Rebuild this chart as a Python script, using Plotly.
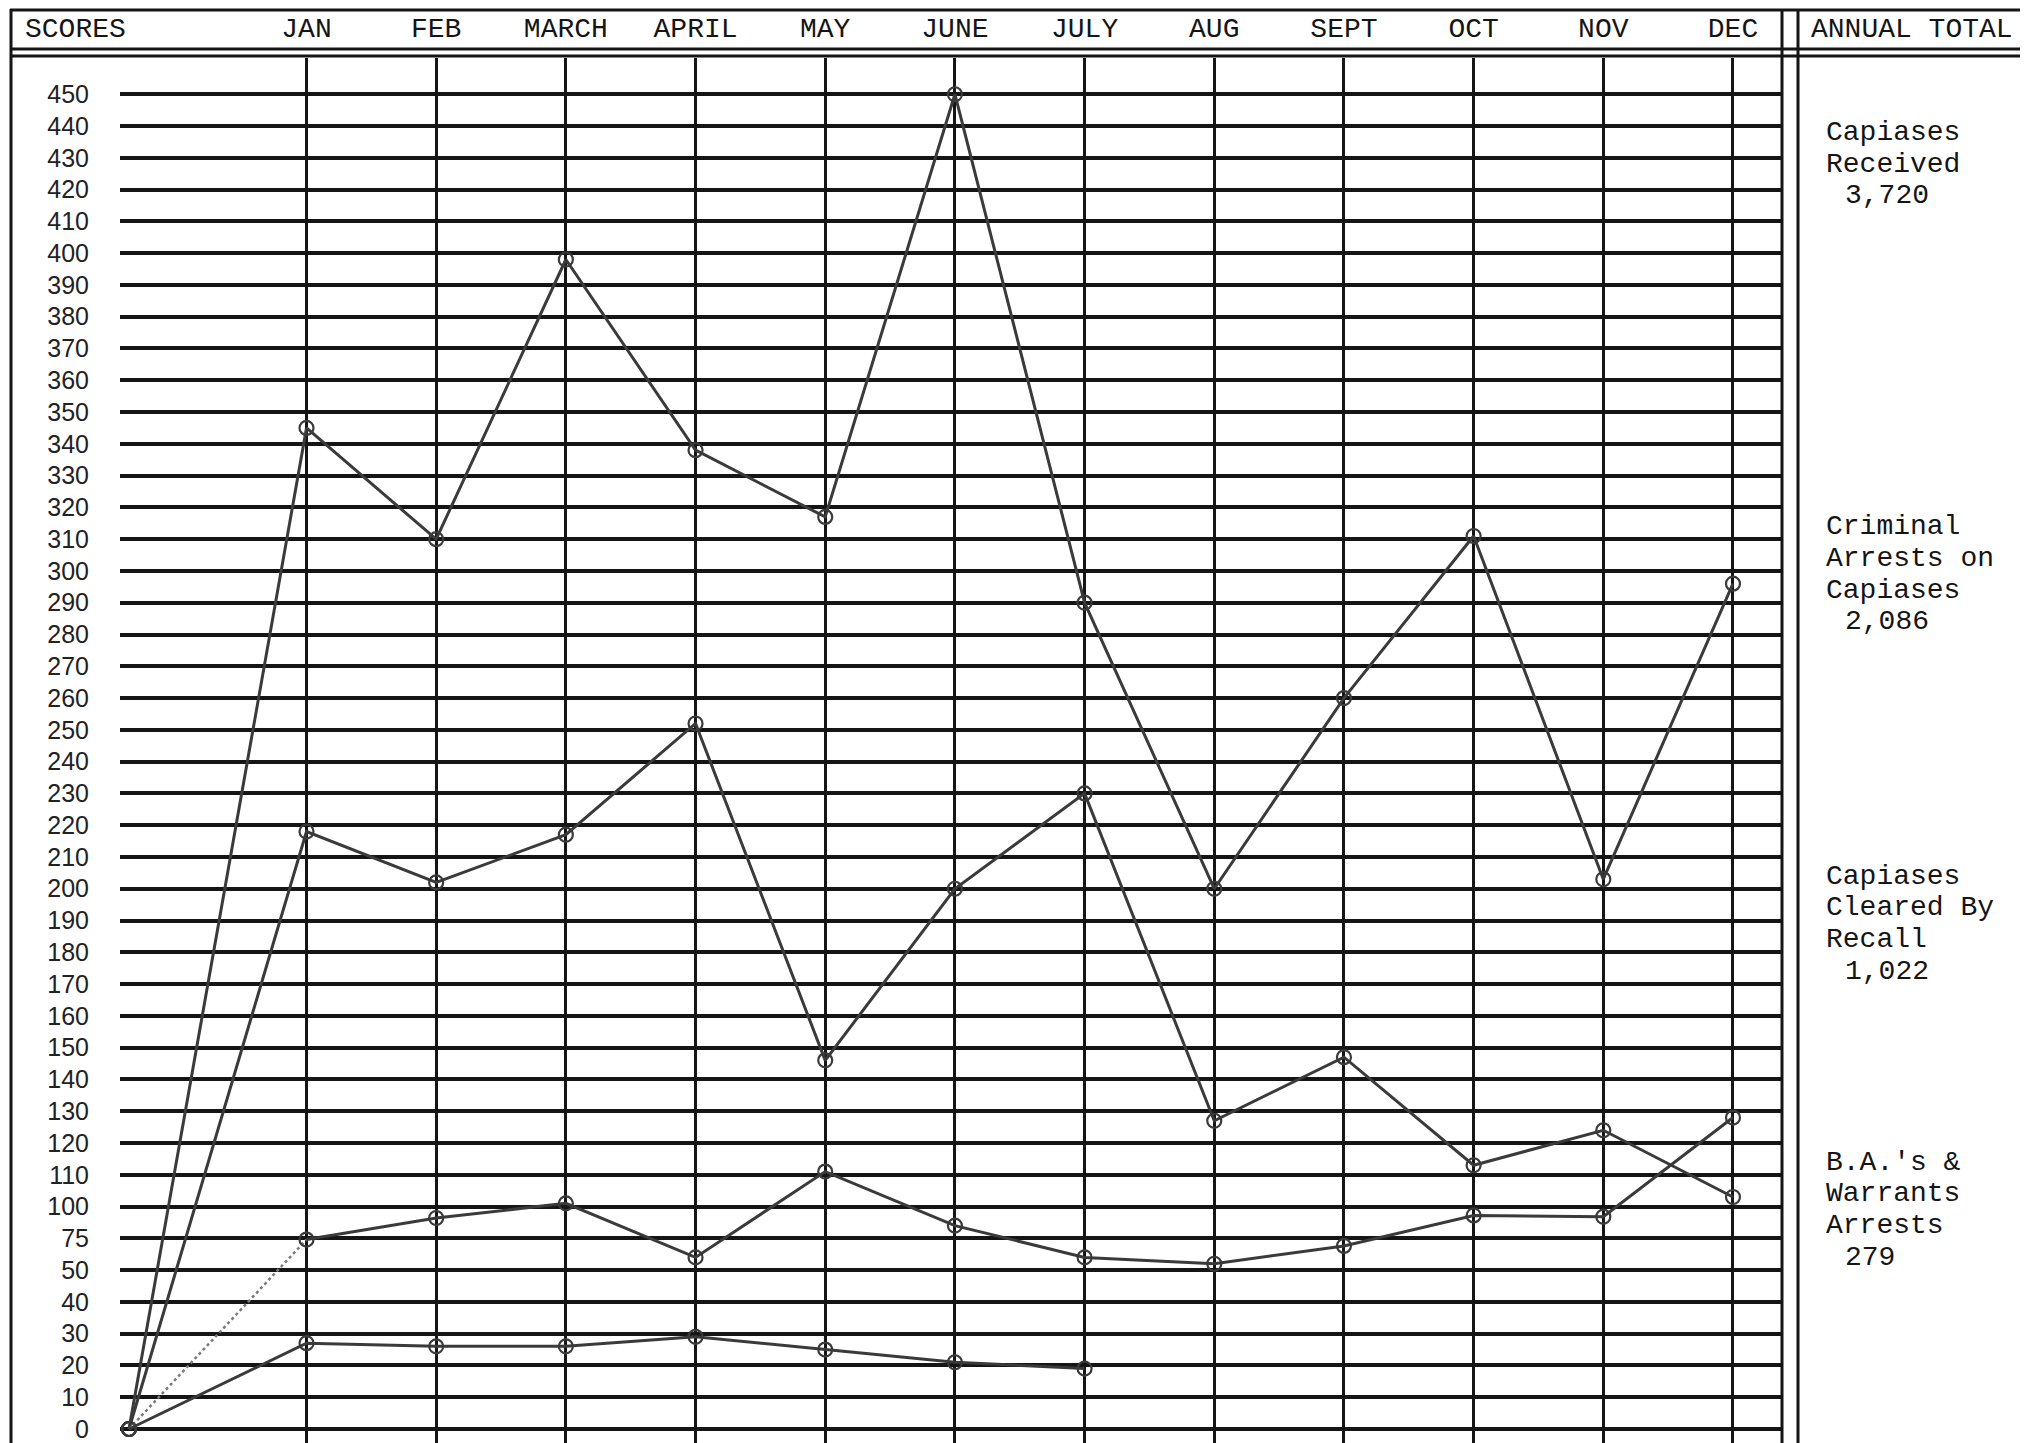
import numpy as np
import plotly.graph_objects as go

# ---------------- data ----------------
MONTHS = ["JAN", "FEB", "MARCH", "APRIL", "MAY", "JUNE",
          "JULY", "AUG", "SEPT", "OCT", "NOV", "DEC"]

# the printed score scale (non-uniform: 0-50 by 10, 75, then 100-450 by 10)
SCORE_TICKS = [0, 10, 20, 30, 40, 50, 75, 100, 110, 120, 130, 140, 150, 160,
               170, 180, 190, 200, 210, 220, 230, 240, 250, 260, 270, 280,
               290, 300, 310, 320, 330, 340, 350, 360, 370, 380, 390, 400,
               410, 420, 430, 440, 450]

START_VALUE = 0

CAPIASES_RECEIVED = [345, 310, 398, 338, 317, 452, 290, 200, 260, 311, 203, 296]
CRIMINAL_ARRESTS = [218, 202, 217, 252, 146, 200, 230, 127, 147, 113, 124, 103]
CLEARED_BY_RECALL = [74, 91, 101, 60, 111, 85, 60, 55, 69, 93, 92, 128]
BA_WARRANTS_ARRESTS = [27, 26, 26, 29, 25, 21, 19]   # Jan - July only

TOTAL_LABELS = [
    ["Capiases", "Received"],
    ["Criminal", "Arrests on", "Capiases"],
    ["Capiases", "Cleared By", "Recall"],
    ["B.A.'s &", "Warrants", "Arrests"],
]
TOTAL_VALUES = ["3,720", "2,086", "1,022", "279"]

# ---------------- layout constants (pixels of the 2028x1443 page) ----------------
PAGE_W, PAGE_H = 2028, 1443
OFF = 8                         # default page margin in front of the figure
FW, FH = PAGE_W - OFF, PAGE_H - OFF
PLOT_LEFT, PLOT_RIGHT, PLOT_TOP = 120, 1782, 58
ROW_PX = 31.78                  # height of one score row
ZERO_ROW_PX = 1429              # page row of the 0 line
MONTH_PX = 129.68               # width of one month column
JAN_PX = 306.5
ORIGIN_X = 1 - (JAN_PX - 129) / MONTH_PX   # where the chart's zero start point sits

INK = "#151515"
PEN = "#3a3a3a"
MONO = "Liberation Mono"


def px_x(p):
    return (p - OFF) / FW


def px_y(p):
    return 1 - (p - OFF) / FH


def score_row(values):
    """Custom piecewise scale of the printed score axis."""
    return np.interp(values, SCORE_TICKS, np.arange(len(SCORE_TICKS)))


month_x = np.arange(1, len(MONTHS) + 1)

x_lo = 1 - (JAN_PX - PLOT_LEFT) / MONTH_PX
x_hi = x_lo + (PLOT_RIGHT - PLOT_LEFT) / MONTH_PX
y_lo = -(PAGE_H - ZERO_ROW_PX) / ROW_PX
y_hi = y_lo + (PAGE_H - PLOT_TOP) / ROW_PX

fig = go.Figure()

MARK = dict(symbol="circle-open", size=14, color=PEN, line=dict(width=2.2))


def add_series(values, dotted_start=False):
    xs = np.concatenate([[ORIGIN_X], month_x[:len(values)]])
    ys = score_row(np.concatenate([[START_VALUE], values]))
    if dotted_start:
        fig.add_trace(go.Scatter(
            x=xs[:2], y=ys[:2], mode="lines",
            line=dict(color="#7a7a7a", width=2.5, dash="dot"),
            hoverinfo="skip", showlegend=False))
        fig.add_trace(go.Scatter(
            x=xs[1:], y=ys[1:], mode="lines+markers",
            line=dict(color=PEN, width=3), marker=MARK, showlegend=False))
        fig.add_trace(go.Scatter(
            x=xs[:1], y=ys[:1], mode="markers",
            marker=MARK, showlegend=False))
    else:
        fig.add_trace(go.Scatter(
            x=xs, y=ys, mode="lines+markers",
            line=dict(color=PEN, width=3), marker=MARK, showlegend=False))


add_series(CAPIASES_RECEIVED)
add_series(CRIMINAL_ARRESTS)
add_series(CLEARED_BY_RECALL, dotted_start=True)
add_series(BA_WARRANTS_ARRESTS)

# ---------------- frame shapes ----------------
shapes = []


def hline(y, x0, x1, w=3):
    shapes.append(dict(type="line", xref="paper", yref="paper",
                       x0=px_x(x0), x1=px_x(x1), y0=px_y(y), y1=px_y(y),
                       line=dict(color=INK, width=w)))


def vline(x, y0, y1, w=3):
    shapes.append(dict(type="line", xref="paper", yref="paper",
                       x0=px_x(x), x1=px_x(x), y0=px_y(y0), y1=px_y(y1),
                       line=dict(color=INK, width=w)))


hline(10, 10, 2026)
hline(49, 10, 2026)
hline(56, 10, 2026)
vline(11, 9, PAGE_H)
vline(2025, 9, PAGE_H)
vline(1782, 9, PAGE_H)
vline(1798, 9, PAGE_H)

# ---------------- annotations ----------------
ann = []
ann.append(dict(text="SCORES", xref="paper", yref="paper",
                x=px_x(23), y=px_y(29), xanchor="left", yanchor="middle",
                showarrow=False, font=dict(family=MONO, size=28, color=INK)))
ann.append(dict(text="ANNUAL TOTAL", xref="paper", yref="paper",
                x=px_x(1912), y=px_y(29), xanchor="center", yanchor="middle",
                showarrow=False, font=dict(family=MONO, size=28, color=INK)))

GROUP_TOP_ROWS = [40.8, 28.4, 17.4, 8.4]
for lines, total, top in zip(TOTAL_LABELS, TOTAL_VALUES, GROUP_TOP_ROWS):
    for i, t in enumerate(lines):
        ann.append(dict(text=t, xref="paper", yref="y",
                        x=px_x(1824), y=top - i, xanchor="left",
                        yanchor="middle", showarrow=False,
                        font=dict(family=MONO, size=28, color=INK)))
    ann.append(dict(text=total, xref="paper", yref="y",
                    x=px_x(1843), y=top - len(lines), xanchor="left",
                    yanchor="middle", showarrow=False,
                    font=dict(family=MONO, size=28, color=INK)))

fig.update_layout(
    width=FW, height=FH,
    margin=dict(l=0, r=0, t=0, b=0),
    paper_bgcolor="white", plot_bgcolor="white",
    shapes=shapes, annotations=ann,
    xaxis=dict(domain=[px_x(PLOT_LEFT), px_x(PLOT_RIGHT)],
               range=[x_lo, x_hi], side="top",
               tickvals=month_x, ticktext=MONTHS,
               tickfont=dict(family=MONO, size=28, color=INK),
               ticks="", ticklabelstandoff=14,
               showgrid=True, gridcolor=INK, gridwidth=3,
               zeroline=False, showline=False, fixedrange=True),
    yaxis=dict(domain=[0, px_y(PLOT_TOP)],
               range=[y_lo, y_hi],
               tickvals=np.arange(len(SCORE_TICKS)),
               ticktext=[str(v) for v in SCORE_TICKS],
               tickfont=dict(family="Liberation Sans", size=25, color="#222"),
               ticks="", ticklabelstandoff=30,
               showgrid=True, gridcolor=INK, gridwidth=3.5,
               zeroline=False, showline=False, fixedrange=True),
)

fig.write_html("out.html")
